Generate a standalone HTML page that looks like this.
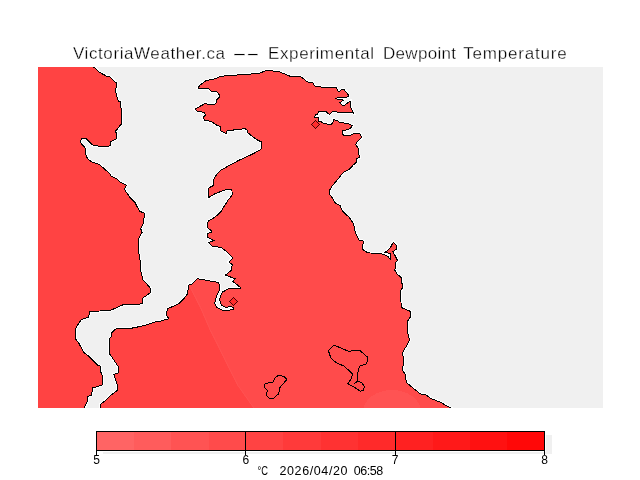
<!DOCTYPE html>
<html lang="en">
<head>
<meta charset="utf-8">
<title>VictoriaWeather.ca -- Experimental Dewpoint Temperature</title>
<style>
html,body{margin:0;padding:0;background:#fff;}
body{width:640px;height:480px;overflow:hidden;position:relative;}
svg{position:absolute;left:0;top:0;display:block;}
text{font-family:"Liberation Sans",sans-serif;fill:#000;}
.ttl{font-size:17px;stroke:#fff;stroke-width:0.3px;}
.lab{font-size:12px;}
.ts{font-size:12.5px;}
</style>
</head>
<body>
<svg width="640" height="480" viewBox="0 0 640 480" shape-rendering="crispEdges">
<defs>
<clipPath id="mapclip"><rect x="38" y="67" width="565" height="341"/></clipPath>
<clipPath id="landclip"><polygon points="100,409 100.5,404.5 107.5,398.75 109.5,396.25 118,390 117.5,385 113.75,374.5 118,373 118,366.25 113,358.75 109.5,353.75 109.5,338.75 111.25,337 112,332.5 115,329.5 118.75,328 132.5,328 145,325.5 155,322 160,321.25 168.75,318.75 166.25,315 167.5,308.75 178.75,303.75 183.75,298.75 187.5,293.75 188.75,285 192.5,283.75 197.5,278.75 218.75,282.5 220,288.75 216.5,296 214.75,303 216.25,307 222,310 226,310.5 233.5,309.5 233.75,307.5 230.6,306.5 225.5,307.5 221.25,305 219.5,298.75 222.5,292 228.75,288.75 241.25,288 232.5,281.25 235,278.75 225.5,275 231.25,270.5 232.25,264.5 228.75,262 233,258 226.25,251.25 221.25,247.5 212.5,246.25 208.75,242.5 213.75,240.5 208,237.5 207.5,233.4 211.25,232.25 211.25,230.6 207.5,227.5 208.1,221.25 212.5,218.75 217.5,215 221.25,211.25 225,205 228.1,200 232.25,195 231.9,189.75 226.25,189.4 215,193.75 208.75,197.5 208.5,193.75 208.75,188.1 213.1,185.6 213.75,179.4 216.25,175 221.25,170 231.25,164.4 240,159.75 250,155.25 255,152.75 260,150 261.9,148.1 261.9,142.25 257.5,140 253.75,137.5 247.5,132.5 246.9,129.75 244.4,128.5 240,129.4 227.25,130.6 226.25,133.75 220.6,130.6 220,126.25 216,124.8 211.5,121.7 204.4,120 203.1,117.5 205.6,115 204.4,112.5 197.5,111.25 195,109 202.5,105 205.6,103.1 208.75,104.75 214.4,105 216.9,101.9 216.9,99.4 219,97.75 219.4,95 216.9,91.9 211.25,91.25 208.75,88.75 201.25,89 198.1,88.1 200,85 206.25,80.6 215,78.75 221.25,76.25 237.5,75 251.25,74 260,73.1 265,71 270,70.6 280,72 290,76.25 301.25,77 307.5,82 312.5,82.5 315,86.25 325,87.5 336,87.5 337.2,89.4 338.4,91.6 340,91.25 341.6,89.7 343.75,89.4 346.25,92.2 348.4,95 348.4,96.6 346.9,97 337.5,97.5 336.25,98.4 338.1,99.4 343.4,100.1 341.6,101.6 339.7,102.4 341.6,104.7 343.1,105.6 345,105 346.9,103.4 350.3,101.25 350.6,107.5 351.9,110 353.25,113 347.5,112.5 340,113 335.6,111.4 332.5,111.4 329.4,114.4 326.9,112.5 325.6,111.2 320.6,111.2 318.75,111.6 317.5,114.4 315.3,115 314.7,117.2 318.1,117.5 318.75,121.5 322.5,122.2 323.1,123.6 326.9,123.9 327.5,124.5 331.25,124.2 332.5,122.8 333.4,121.9 333.6,119.5 337.5,120.8 339.5,122.5 347.5,123.5 352.5,125.6 350,128.75 342.5,131 341.9,133.1 343.75,135.25 349.4,135.6 354.4,133.5 360,133.75 361.5,137.5 357.5,141.25 355.6,144.4 358.1,148.1 359.4,157.5 356.9,158.75 356.25,162.5 353.1,165 350,168.75 346.9,170.6 343.4,172.4 341.25,175 338.75,178.1 331.9,186.25 329.75,190 329.75,194.4 332.5,198.1 335,202.75 340,205.6 342.5,211.25 348.75,216.9 353.75,223.75 354.5,230 355.5,232.5 358.75,240 363.75,241.25 362,248.75 365.6,251.75 370.3,253 378.75,253.4 384.4,254.6 388.1,256.7 390.5,259.5 390.8,253.3 385,252.6 390,248.3 393.3,242.2 396.6,245.5 396.6,249.2 392.8,251.6 395.2,255.8 397.5,260.5 395.6,262.8 394.9,270.3 397,274 401.25,277.5 402.5,287.5 400.5,291.25 401.25,307.5 410,311.25 410,317.5 407.5,321.25 407,330 409.5,340 406.25,346.25 402.5,352.5 403.75,361.25 402.5,370 405.5,375 406.25,382.5 412.5,387.5 420,393.75 426.25,395 431.25,398.75 440,402 452.5,409"/></clipPath>
</defs>
<rect x="0" y="0" width="640" height="480" fill="#fff"/>
<g><text x="73" y="59.3" class="ttl" textLength="152" lengthAdjust="spacing">VictoriaWeather.ca</text><text y="59.3" class="ttl"><tspan x="232" textLength="15" lengthAdjust="spacingAndGlyphs">-</tspan><tspan x="246.1" textLength="13.8" lengthAdjust="spacingAndGlyphs">-</tspan></text><text x="268" y="59.3" class="ttl" textLength="106" lengthAdjust="spacing">Experimental</text><text x="383" y="59.3" class="ttl" textLength="73" lengthAdjust="spacing">Dewpoint</text><text x="463.2" y="59.3" class="ttl" textLength="103.6" lengthAdjust="spacing">Temperature</text></g>
<rect x="38" y="67" width="565" height="341" fill="#f0f0f0"/>
<g clip-path="url(#mapclip)">
<polygon points="30,60 91.25,66 95.6,68.25 98.75,72 106.25,76 110,77 116.9,83.5 116.5,87.6 115.25,88.9 116.25,94.5 118.5,101.4 120.25,101.75 121.25,109.5 122,120 121.5,123.75 115,131.9 116.9,133.1 116.5,138.75 110.6,141.5 111,145 108.75,146.25 99.4,146.25 92.5,145 87.5,140 86.25,138.75 81.9,138.75 80.25,140.6 81.25,143.75 85,147.75 86.25,156.25 88.75,160 92.5,162.25 99.4,164.4 105,169.4 110,173.75 111.25,176.25 116.9,179 120,182 126.25,185 124.5,189.5 130,197.5 135,202.5 139.5,211.25 144.25,213 143.75,222.5 140.75,228.75 142,232.5 138,240 138,247.5 140,260 140,267.5 143,280 150,287.5 150.5,292.5 143,298 142,303.75 132.5,305 123.75,304.5 110,310.5 89.5,311.5 88.75,317 81.25,319.5 77,326.25 75,330 75.5,338.75 78.75,343 83.75,352.5 88.75,356.25 97.5,365 100.5,366.25 100.5,371.25 102.5,376.25 102,385 92.5,388 91.75,395 88,396.25 87.5,401 83.75,409 30,409" fill="#ff4343" stroke="#fff" stroke-width="3"/>
<polygon points="100,409 100.5,404.5 107.5,398.75 109.5,396.25 118,390 117.5,385 113.75,374.5 118,373 118,366.25 113,358.75 109.5,353.75 109.5,338.75 111.25,337 112,332.5 115,329.5 118.75,328 132.5,328 145,325.5 155,322 160,321.25 168.75,318.75 166.25,315 167.5,308.75 178.75,303.75 183.75,298.75 187.5,293.75 188.75,285 192.5,283.75 197.5,278.75 218.75,282.5 220,288.75 216.5,296 214.75,303 216.25,307 222,310 226,310.5 233.5,309.5 233.75,307.5 230.6,306.5 225.5,307.5 221.25,305 219.5,298.75 222.5,292 228.75,288.75 241.25,288 232.5,281.25 235,278.75 225.5,275 231.25,270.5 232.25,264.5 228.75,262 233,258 226.25,251.25 221.25,247.5 212.5,246.25 208.75,242.5 213.75,240.5 208,237.5 207.5,233.4 211.25,232.25 211.25,230.6 207.5,227.5 208.1,221.25 212.5,218.75 217.5,215 221.25,211.25 225,205 228.1,200 232.25,195 231.9,189.75 226.25,189.4 215,193.75 208.75,197.5 208.5,193.75 208.75,188.1 213.1,185.6 213.75,179.4 216.25,175 221.25,170 231.25,164.4 240,159.75 250,155.25 255,152.75 260,150 261.9,148.1 261.9,142.25 257.5,140 253.75,137.5 247.5,132.5 246.9,129.75 244.4,128.5 240,129.4 227.25,130.6 226.25,133.75 220.6,130.6 220,126.25 216,124.8 211.5,121.7 204.4,120 203.1,117.5 205.6,115 204.4,112.5 197.5,111.25 195,109 202.5,105 205.6,103.1 208.75,104.75 214.4,105 216.9,101.9 216.9,99.4 219,97.75 219.4,95 216.9,91.9 211.25,91.25 208.75,88.75 201.25,89 198.1,88.1 200,85 206.25,80.6 215,78.75 221.25,76.25 237.5,75 251.25,74 260,73.1 265,71 270,70.6 280,72 290,76.25 301.25,77 307.5,82 312.5,82.5 315,86.25 325,87.5 336,87.5 337.2,89.4 338.4,91.6 340,91.25 341.6,89.7 343.75,89.4 346.25,92.2 348.4,95 348.4,96.6 346.9,97 337.5,97.5 336.25,98.4 338.1,99.4 343.4,100.1 341.6,101.6 339.7,102.4 341.6,104.7 343.1,105.6 345,105 346.9,103.4 350.3,101.25 350.6,107.5 351.9,110 353.25,113 347.5,112.5 340,113 335.6,111.4 332.5,111.4 329.4,114.4 326.9,112.5 325.6,111.2 320.6,111.2 318.75,111.6 317.5,114.4 315.3,115 314.7,117.2 318.1,117.5 318.75,121.5 322.5,122.2 323.1,123.6 326.9,123.9 327.5,124.5 331.25,124.2 332.5,122.8 333.4,121.9 333.6,119.5 337.5,120.8 339.5,122.5 347.5,123.5 352.5,125.6 350,128.75 342.5,131 341.9,133.1 343.75,135.25 349.4,135.6 354.4,133.5 360,133.75 361.5,137.5 357.5,141.25 355.6,144.4 358.1,148.1 359.4,157.5 356.9,158.75 356.25,162.5 353.1,165 350,168.75 346.9,170.6 343.4,172.4 341.25,175 338.75,178.1 331.9,186.25 329.75,190 329.75,194.4 332.5,198.1 335,202.75 340,205.6 342.5,211.25 348.75,216.9 353.75,223.75 354.5,230 355.5,232.5 358.75,240 363.75,241.25 362,248.75 365.6,251.75 370.3,253 378.75,253.4 384.4,254.6 388.1,256.7 390.5,259.5 390.8,253.3 385,252.6 390,248.3 393.3,242.2 396.6,245.5 396.6,249.2 392.8,251.6 395.2,255.8 397.5,260.5 395.6,262.8 394.9,270.3 397,274 401.25,277.5 402.5,287.5 400.5,291.25 401.25,307.5 410,311.25 410,317.5 407.5,321.25 407,330 409.5,340 406.25,346.25 402.5,352.5 403.75,361.25 402.5,370 405.5,375 406.25,382.5 412.5,387.5 420,393.75 426.25,395 431.25,398.75 440,402 452.5,409" fill="#ff4b4b" stroke="#fff" stroke-width="3"/>
<polygon points="30,60 91.25,66 95.6,68.25 98.75,72 106.25,76 110,77 116.9,83.5 116.5,87.6 115.25,88.9 116.25,94.5 118.5,101.4 120.25,101.75 121.25,109.5 122,120 121.5,123.75 115,131.9 116.9,133.1 116.5,138.75 110.6,141.5 111,145 108.75,146.25 99.4,146.25 92.5,145 87.5,140 86.25,138.75 81.9,138.75 80.25,140.6 81.25,143.75 85,147.75 86.25,156.25 88.75,160 92.5,162.25 99.4,164.4 105,169.4 110,173.75 111.25,176.25 116.9,179 120,182 126.25,185 124.5,189.5 130,197.5 135,202.5 139.5,211.25 144.25,213 143.75,222.5 140.75,228.75 142,232.5 138,240 138,247.5 140,260 140,267.5 143,280 150,287.5 150.5,292.5 143,298 142,303.75 132.5,305 123.75,304.5 110,310.5 89.5,311.5 88.75,317 81.25,319.5 77,326.25 75,330 75.5,338.75 78.75,343 83.75,352.5 88.75,356.25 97.5,365 100.5,366.25 100.5,371.25 102.5,376.25 102,385 92.5,388 91.75,395 88,396.25 87.5,401 83.75,409 30,409" fill="#ff4343" stroke="#000" stroke-width="1"/>
<polygon points="100,409 100.5,404.5 107.5,398.75 109.5,396.25 118,390 117.5,385 113.75,374.5 118,373 118,366.25 113,358.75 109.5,353.75 109.5,338.75 111.25,337 112,332.5 115,329.5 118.75,328 132.5,328 145,325.5 155,322 160,321.25 168.75,318.75 166.25,315 167.5,308.75 178.75,303.75 183.75,298.75 187.5,293.75 188.75,285 192.5,283.75 197.5,278.75 218.75,282.5 220,288.75 216.5,296 214.75,303 216.25,307 222,310 226,310.5 233.5,309.5 233.75,307.5 230.6,306.5 225.5,307.5 221.25,305 219.5,298.75 222.5,292 228.75,288.75 241.25,288 232.5,281.25 235,278.75 225.5,275 231.25,270.5 232.25,264.5 228.75,262 233,258 226.25,251.25 221.25,247.5 212.5,246.25 208.75,242.5 213.75,240.5 208,237.5 207.5,233.4 211.25,232.25 211.25,230.6 207.5,227.5 208.1,221.25 212.5,218.75 217.5,215 221.25,211.25 225,205 228.1,200 232.25,195 231.9,189.75 226.25,189.4 215,193.75 208.75,197.5 208.5,193.75 208.75,188.1 213.1,185.6 213.75,179.4 216.25,175 221.25,170 231.25,164.4 240,159.75 250,155.25 255,152.75 260,150 261.9,148.1 261.9,142.25 257.5,140 253.75,137.5 247.5,132.5 246.9,129.75 244.4,128.5 240,129.4 227.25,130.6 226.25,133.75 220.6,130.6 220,126.25 216,124.8 211.5,121.7 204.4,120 203.1,117.5 205.6,115 204.4,112.5 197.5,111.25 195,109 202.5,105 205.6,103.1 208.75,104.75 214.4,105 216.9,101.9 216.9,99.4 219,97.75 219.4,95 216.9,91.9 211.25,91.25 208.75,88.75 201.25,89 198.1,88.1 200,85 206.25,80.6 215,78.75 221.25,76.25 237.5,75 251.25,74 260,73.1 265,71 270,70.6 280,72 290,76.25 301.25,77 307.5,82 312.5,82.5 315,86.25 325,87.5 336,87.5 337.2,89.4 338.4,91.6 340,91.25 341.6,89.7 343.75,89.4 346.25,92.2 348.4,95 348.4,96.6 346.9,97 337.5,97.5 336.25,98.4 338.1,99.4 343.4,100.1 341.6,101.6 339.7,102.4 341.6,104.7 343.1,105.6 345,105 346.9,103.4 350.3,101.25 350.6,107.5 351.9,110 353.25,113 347.5,112.5 340,113 335.6,111.4 332.5,111.4 329.4,114.4 326.9,112.5 325.6,111.2 320.6,111.2 318.75,111.6 317.5,114.4 315.3,115 314.7,117.2 318.1,117.5 318.75,121.5 322.5,122.2 323.1,123.6 326.9,123.9 327.5,124.5 331.25,124.2 332.5,122.8 333.4,121.9 333.6,119.5 337.5,120.8 339.5,122.5 347.5,123.5 352.5,125.6 350,128.75 342.5,131 341.9,133.1 343.75,135.25 349.4,135.6 354.4,133.5 360,133.75 361.5,137.5 357.5,141.25 355.6,144.4 358.1,148.1 359.4,157.5 356.9,158.75 356.25,162.5 353.1,165 350,168.75 346.9,170.6 343.4,172.4 341.25,175 338.75,178.1 331.9,186.25 329.75,190 329.75,194.4 332.5,198.1 335,202.75 340,205.6 342.5,211.25 348.75,216.9 353.75,223.75 354.5,230 355.5,232.5 358.75,240 363.75,241.25 362,248.75 365.6,251.75 370.3,253 378.75,253.4 384.4,254.6 388.1,256.7 390.5,259.5 390.8,253.3 385,252.6 390,248.3 393.3,242.2 396.6,245.5 396.6,249.2 392.8,251.6 395.2,255.8 397.5,260.5 395.6,262.8 394.9,270.3 397,274 401.25,277.5 402.5,287.5 400.5,291.25 401.25,307.5 410,311.25 410,317.5 407.5,321.25 407,330 409.5,340 406.25,346.25 402.5,352.5 403.75,361.25 402.5,370 405.5,375 406.25,382.5 412.5,387.5 420,393.75 426.25,395 431.25,398.75 440,402 452.5,409" fill="#ff4b4b"/>
<g clip-path="url(#landclip)">
<polygon points="189,286 200,307.5 209.4,329.4 218.75,348 228,367 237.5,385.6 254,409 30,409 30,286" fill="#ff4343"/>
<polyline points="189.6,286 200.6,307.5 210,329.4 219.35,348 228.6,367 238.1,385.6 254.6,409" fill="none" stroke="#ff5252" stroke-width="1" shape-rendering="auto"/>
<ellipse cx="392" cy="412" rx="29" ry="22" fill="#ff5353"/>
</g>
<polygon points="100,409 100.5,404.5 107.5,398.75 109.5,396.25 118,390 117.5,385 113.75,374.5 118,373 118,366.25 113,358.75 109.5,353.75 109.5,338.75 111.25,337 112,332.5 115,329.5 118.75,328 132.5,328 145,325.5 155,322 160,321.25 168.75,318.75 166.25,315 167.5,308.75 178.75,303.75 183.75,298.75 187.5,293.75 188.75,285 192.5,283.75 197.5,278.75 218.75,282.5 220,288.75 216.5,296 214.75,303 216.25,307 222,310 226,310.5 233.5,309.5 233.75,307.5 230.6,306.5 225.5,307.5 221.25,305 219.5,298.75 222.5,292 228.75,288.75 241.25,288 232.5,281.25 235,278.75 225.5,275 231.25,270.5 232.25,264.5 228.75,262 233,258 226.25,251.25 221.25,247.5 212.5,246.25 208.75,242.5 213.75,240.5 208,237.5 207.5,233.4 211.25,232.25 211.25,230.6 207.5,227.5 208.1,221.25 212.5,218.75 217.5,215 221.25,211.25 225,205 228.1,200 232.25,195 231.9,189.75 226.25,189.4 215,193.75 208.75,197.5 208.5,193.75 208.75,188.1 213.1,185.6 213.75,179.4 216.25,175 221.25,170 231.25,164.4 240,159.75 250,155.25 255,152.75 260,150 261.9,148.1 261.9,142.25 257.5,140 253.75,137.5 247.5,132.5 246.9,129.75 244.4,128.5 240,129.4 227.25,130.6 226.25,133.75 220.6,130.6 220,126.25 216,124.8 211.5,121.7 204.4,120 203.1,117.5 205.6,115 204.4,112.5 197.5,111.25 195,109 202.5,105 205.6,103.1 208.75,104.75 214.4,105 216.9,101.9 216.9,99.4 219,97.75 219.4,95 216.9,91.9 211.25,91.25 208.75,88.75 201.25,89 198.1,88.1 200,85 206.25,80.6 215,78.75 221.25,76.25 237.5,75 251.25,74 260,73.1 265,71 270,70.6 280,72 290,76.25 301.25,77 307.5,82 312.5,82.5 315,86.25 325,87.5 336,87.5 337.2,89.4 338.4,91.6 340,91.25 341.6,89.7 343.75,89.4 346.25,92.2 348.4,95 348.4,96.6 346.9,97 337.5,97.5 336.25,98.4 338.1,99.4 343.4,100.1 341.6,101.6 339.7,102.4 341.6,104.7 343.1,105.6 345,105 346.9,103.4 350.3,101.25 350.6,107.5 351.9,110 353.25,113 347.5,112.5 340,113 335.6,111.4 332.5,111.4 329.4,114.4 326.9,112.5 325.6,111.2 320.6,111.2 318.75,111.6 317.5,114.4 315.3,115 314.7,117.2 318.1,117.5 318.75,121.5 322.5,122.2 323.1,123.6 326.9,123.9 327.5,124.5 331.25,124.2 332.5,122.8 333.4,121.9 333.6,119.5 337.5,120.8 339.5,122.5 347.5,123.5 352.5,125.6 350,128.75 342.5,131 341.9,133.1 343.75,135.25 349.4,135.6 354.4,133.5 360,133.75 361.5,137.5 357.5,141.25 355.6,144.4 358.1,148.1 359.4,157.5 356.9,158.75 356.25,162.5 353.1,165 350,168.75 346.9,170.6 343.4,172.4 341.25,175 338.75,178.1 331.9,186.25 329.75,190 329.75,194.4 332.5,198.1 335,202.75 340,205.6 342.5,211.25 348.75,216.9 353.75,223.75 354.5,230 355.5,232.5 358.75,240 363.75,241.25 362,248.75 365.6,251.75 370.3,253 378.75,253.4 384.4,254.6 388.1,256.7 390.5,259.5 390.8,253.3 385,252.6 390,248.3 393.3,242.2 396.6,245.5 396.6,249.2 392.8,251.6 395.2,255.8 397.5,260.5 395.6,262.8 394.9,270.3 397,274 401.25,277.5 402.5,287.5 400.5,291.25 401.25,307.5 410,311.25 410,317.5 407.5,321.25 407,330 409.5,340 406.25,346.25 402.5,352.5 403.75,361.25 402.5,370 405.5,375 406.25,382.5 412.5,387.5 420,393.75 426.25,395 431.25,398.75 440,402 452.5,409" fill="none" stroke="#000" stroke-width="1"/>
<polygon points="333.5,345.2 328.4,350.6 330.8,358 336.25,362.8 344.4,366.2 352.5,374 351.4,378.3 347.8,383.8 353.9,387.1 360.6,391.2 363.6,390.3 364.4,386.2 362,383.1 357.7,381 354.3,383.6 357.7,381 357.25,375.6 359.3,366.4 366.7,363.7 367.7,357.3 363.3,353.3 359.3,350.2 348.4,351.25 339,347.2" fill="none" stroke="#000" stroke-width="1"/>
<polygon points="278.75,375 275,378 273,382 265,383.75 264.25,387 267.5,390.5 266.25,395 268.75,398 273.75,398 278.75,393.75 280,387.5 283.75,383 286.75,379.5 284.5,377" fill="none" stroke="#000" stroke-width="1"/>
<polygon points="315.5,120.7 319.3,124.5 315.5,128.3 311.7,124.5" fill="#ff2c2c" stroke="#4a0000" stroke-width="1.1"/>
<polygon points="233.5,297.7 237.3,301.5 233.5,305.3 229.7,301.5" fill="#ff2c2c" stroke="#4a0000" stroke-width="1.1"/>
</g>
<rect x="103" y="435" width="449" height="19" fill="#f0f0f0"/>
<rect x="95.5" y="430.5" width="450.0" height="21.0" fill="#fff"/>
<rect x="96.50" y="431.5" width="37.83" height="19.0" fill="#ff6464"/><rect x="133.83" y="431.5" width="37.83" height="19.0" fill="#ff5c5c"/><rect x="171.17" y="431.5" width="37.83" height="19.0" fill="#ff5353"/><rect x="208.50" y="431.5" width="37.83" height="19.0" fill="#ff4b4b"/><rect x="245.83" y="431.5" width="37.83" height="19.0" fill="#ff4343"/><rect x="283.17" y="431.5" width="37.83" height="19.0" fill="#ff3a3a"/><rect x="320.50" y="431.5" width="37.83" height="19.0" fill="#ff3232"/><rect x="357.83" y="431.5" width="37.83" height="19.0" fill="#ff2a2a"/><rect x="395.17" y="431.5" width="37.83" height="19.0" fill="#ff2121"/><rect x="432.50" y="431.5" width="37.83" height="19.0" fill="#ff1919"/><rect x="469.83" y="431.5" width="37.83" height="19.0" fill="#ff1111"/><rect x="507.17" y="431.5" width="37.83" height="19.0" fill="#ff0808"/>
<rect x="96.5" y="431.5" width="448.0" height="19.0" fill="none" stroke="#000" stroke-width="1"/>
<line x1="96.50" y1="450.5" x2="96.50" y2="455.0" stroke="#000" stroke-width="1"/><line x1="245.83" y1="431.5" x2="245.83" y2="455.0" stroke="#000" stroke-width="1"/><line x1="395.17" y1="431.5" x2="395.17" y2="455.0" stroke="#000" stroke-width="1"/><line x1="544.50" y1="450.5" x2="544.50" y2="455.0" stroke="#000" stroke-width="1"/>
<text x="96.50" y="464.2" text-anchor="middle" class="lab">5</text><text x="245.83" y="464.2" text-anchor="middle" class="lab">6</text><text x="395.17" y="464.2" text-anchor="middle" class="lab">7</text><text x="544.50" y="464.2" text-anchor="middle" class="lab">8</text>
<text x="257.5" y="475.3" class="ts"><tspan x="257.5" textLength="10.5" lengthAdjust="spacingAndGlyphs">°C</tspan> <tspan x="279.5" textLength="68" lengthAdjust="spacing">2026/04/20</tspan> <tspan x="353.75" textLength="29.5" lengthAdjust="spacing">06:58</tspan></text>
</svg>
</body>
</html>
